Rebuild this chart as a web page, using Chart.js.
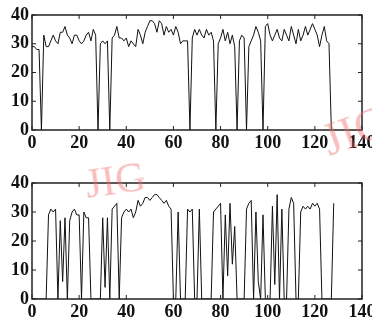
<!DOCTYPE html>
<html>
<head>
<meta charset="utf-8">
<script src="https://cdn.jsdelivr.net/npm/chart.js@4.4.0/dist/chart.umd.min.js"></script>
<style>
  body { margin: 0; background: #fff; width: 372px; height: 320px; position: relative; overflow: hidden; }
  canvas { position: absolute; left: 0; }
  #CANVAS-TOP { top: 0; }
  #CANVAS-BOTTOM { top: 160px; }
  .mark { position: absolute; font-family: "Liberation Serif", serif; font-size: 42px; color: rgba(240, 110, 110, 0.45); pointer-events: none; }
</style>
</head>
<body>
<canvas id="CANVAS-TOP" width="372" height="160"></canvas>
<canvas id="CANVAS-BOTTOM" width="372" height="160"></canvas>
<div class="mark" style="left:322px; top:104px; font-size:46px; transform: rotate(-20deg);">JIG</div>
<div class="mark" style="left:85px; top:156px; transform: rotate(-8deg);">JIG</div>
<script>
// 위쪽 그래프 값 (샘플 0 ~ 127)
const topValues = [
  29, 29, 28, 28, 0, 33, 29, 29, 31, 33,
  31, 30, 34, 34, 36, 33, 32, 30, 33, 33,
  31, 30, 31, 33, 34, 31, 35, 33, 0, 30,
  31, 30, 31, 0, 32, 33, 36, 32, 32, 31,
  32, 29, 31, 30, 29, 35, 33, 30, 34, 36,
  38, 38, 37, 34, 38, 37, 33, 36, 34, 35,
  33, 36, 34, 30, 31, 31, 31, 0, 32, 35,
  33, 35, 33, 32, 35, 33, 34, 31, 0, 30,
  32, 35, 31, 34, 30, 33, 29, 0, 31, 33,
  32, 0, 29, 31, 33, 36, 34, 31, 0, 36,
  37, 33, 31, 33, 35, 32, 31, 35, 33, 31,
  36, 33, 30, 35, 31, 33, 36, 33, 35, 37,
  35, 33, 29, 33, 36, 31, 30, 0
];

// 아래쪽 그래프 값 (샘플 0 ~ 128)
const bottomValues = [
  0, 0, 0, 0, 0, 0, 0, 29, 31, 30,
  31, 0, 27, 6, 28, 0, 27, 30, 31, 29,
  29, 0, 30, 28, 28, 0, 0, 0, 0, 0,
  28, 4, 28, 0, 31, 32, 33, 0, 28, 30,
  31, 30, 31, 28, 30, 34, 32, 33, 35, 35,
  34, 35, 36, 36, 35, 34, 33, 34, 32, 31,
  0, 0, 30, 0, 0, 0, 31, 30, 31, 0,
  0, 31, 0, 0, 0, 0, 0, 30, 31, 32,
  33, 0, 29, 8, 33, 12, 25, 0, 0, 0,
  0, 31, 33, 34, 0, 30, 6, 0, 29, 0,
  0, 0, 32, 5, 36, 0, 31, 0, 0, 31,
  35, 33, 0, 0, 30, 32, 31, 32, 31, 33,
  32, 33, 31, 0, 0, 0, 0, 0, 33
];

// 축 눈금
const xTicks = [0, 20, 40, 60, 80, 100, 120, 140];
const yTicks = [0, 10, 20, 30, 40];

const tickFont = { family: '"Liberation Serif", "Times New Roman", serif', size: 18, weight: 'bold' };

// 테두리 박스 + 안쪽 눈금
const frameTicks = {
  id: 'frameTicks',
  afterDraw(chart) {
    const { ctx, chartArea: a, scales: { x, y } } = chart;
    ctx.save();
    ctx.strokeStyle = '#222';
    ctx.lineWidth = 1.5;
    ctx.strokeRect(a.left, a.top, a.right - a.left, a.bottom - a.top);
    ctx.lineWidth = 1;
    ctx.beginPath();
    x.ticks.forEach(t => {
      const px = x.getPixelForValue(t.value);
      ctx.moveTo(px, a.bottom); ctx.lineTo(px, a.bottom - 4);
      ctx.moveTo(px, a.top); ctx.lineTo(px, a.top + 4);
    });
    y.ticks.forEach(t => {
      const py = y.getPixelForValue(t.value);
      ctx.moveTo(a.left, py); ctx.lineTo(a.left + 4, py);
      ctx.moveTo(a.right, py); ctx.lineTo(a.right - 4, py);
    });
    ctx.stroke();
    ctx.restore();
  }
};

const makeChart = (canvasId, values, areaTop, axisHeight) => {
  const ctx = document.getElementById(canvasId).getContext('2d');
  return new Chart(ctx, {
    type: 'line',
    data: {
      datasets: [{
        data: values.map((v, i) => ({ x: i, y: v })),
        borderColor: '#111',
        borderWidth: 1,
        pointRadius: 0,
        tension: 0,
        fill: false
      }]
    },
    options: {
      responsive: false,
      animation: false,
      layout: { padding: { top: areaTop, right: 10, left: 0, bottom: 0 } },
      plugins: { legend: { display: false }, tooltip: { enabled: false } },
      scales: {
        x: {
          type: 'linear',
          min: 0,
          max: 140,
          afterBuildTicks(scale) { scale.ticks = xTicks.map(v => ({ value: v })); },
          ticks: { color: '#111', font: tickFont, padding: 3, maxRotation: 0 },
          grid: { display: false, drawTicks: false },
          border: { display: false },
          afterFit(scale) { scale.height = axisHeight; scale.paddingLeft = 0; scale.paddingRight = 0; }
        },
        y: {
          min: 0,
          max: 40,
          afterBuildTicks(scale) { scale.ticks = yTicks.map(v => ({ value: v })); },
          ticks: { color: '#111', font: tickFont, padding: 3 },
          grid: { display: false, drawTicks: false },
          border: { display: false },
          afterFit(scale) { scale.width = 32; scale.paddingTop = 0; scale.paddingBottom = 0; }
        }
      }
    },
    plugins: [frameTicks]
  });
};

// 차트 렌더링
makeChart('CANVAS-TOP', topValues, 15, 30);
makeChart('CANVAS-BOTTOM', bottomValues, 23, 21);
</script>
</body>
</html>
